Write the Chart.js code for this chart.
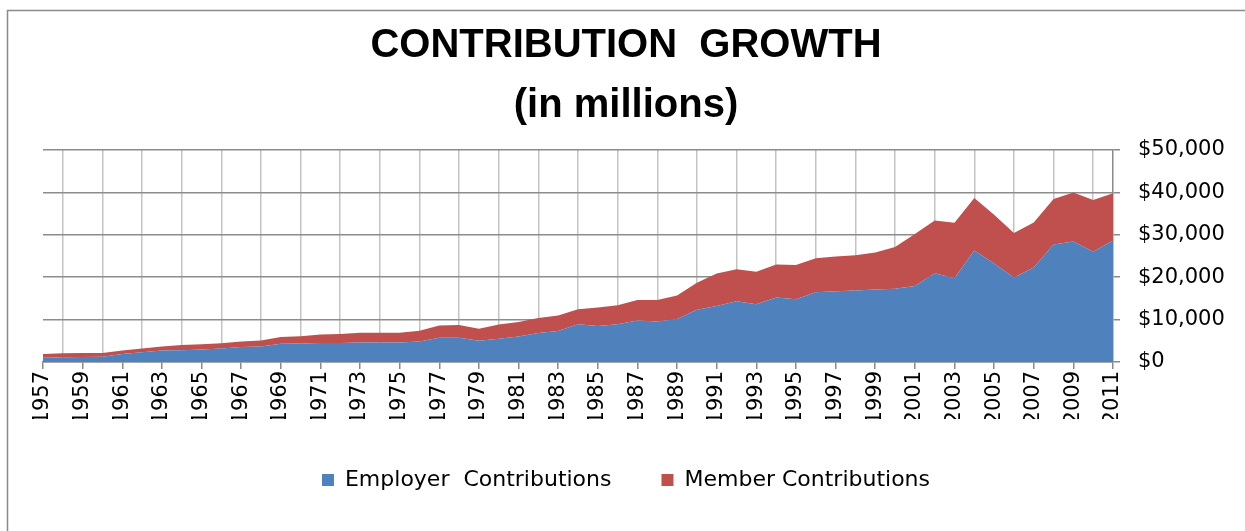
<!DOCTYPE html>
<html lang="en">
<head>
  <meta charset="UTF-8">
  <title>Contribution Growth</title>
  <script src="https://cdn.jsdelivr.net/npm/chart.js"></script>
  <style>
    body {
      margin: 0;
      background-color: #ffffff;
    }
    #wrap {
      width: 1245px;
      height: 531px;
    }
  </style>
</head>
<body>
  <div id="wrap"><canvas id="growthChart"></canvas></div>

  <script>
    const years = [
      '1957', '1958', '1959', '1960', '1961', '1962', '1963', '1964', '1965', '1966',
      '1967', '1968', '1969', '1970', '1971', '1972', '1973', '1974', '1975', '1976',
      '1977', '1978', '1979', '1980', '1981', '1982', '1983', '1984', '1985', '1986',
      '1987', '1988', '1989', '1990', '1991', '1992', '1993', '1994', '1995', '1996',
      '1997', '1998', '1999', '2000', '2001', '2002', '2003', '2004', '2005', '2006',
      '2007', '2008', '2009', '2010', '2011'
    ];

    // millions of dollars
    const employer = [
      1000, 1100, 1150, 1250, 1900, 2300, 2700, 2800, 2950, 3200,
      3550, 3650, 4300, 4350, 4500, 4500, 4600, 4600, 4600, 4850,
      5700, 5700, 5000, 5500, 6000, 6850, 7300, 8900, 8500, 8900,
      9800, 9550, 10150, 12300, 13200, 14300, 13600, 15200, 14800, 16450,
      16700, 16850, 17100, 17250, 17950, 20950, 19750, 26300, 23250, 19900,
      22300, 27700, 28400, 26000, 28650
    ];

    const member = [
      900, 950, 950, 900, 800, 900, 950, 1200, 1250, 1250,
      1300, 1450, 1600, 1750, 2000, 2100, 2300, 2300, 2300, 2500,
      2900, 3000, 2850, 3350, 3450, 3500, 3650, 3550, 4350, 4500,
      4800, 5050, 5550, 6400, 7700, 7600, 7700, 7800, 8050, 8000,
      8200, 8350, 8750, 9850, 12250, 12450, 13100, 12400, 11450, 10500,
      10600, 10750, 11600, 12200, 11150
    ];

    const yTicks = [0, 10000, 20000, 30000, 40000, 50000];

    const BLUE = '#4f81bd';
    const RED = '#c0504d';
    const tickFont = { family: 'DejaVu Sans', size: 21 };

    // white page and the grey frame round the chart
    const framePlugin = {
      id: 'frame',
      beforeDraw(chart) {
        const c = chart.ctx;
        c.save();
        c.fillStyle = '#ffffff';
        c.fillRect(0, 0, chart.width, chart.height);
        c.strokeStyle = '#8a8a8a';
        c.lineWidth = 1.5;
        c.strokeRect(7.5, 10.5, 1400, 700);
        c.restore();
      }
    };

    const ctx = document.getElementById('growthChart').getContext('2d');

    new Chart(ctx, {
      type: 'line',
      data: {
        labels: years,
        datasets: [
          {
            label: 'Employer  Contributions',
            data: employer,
            backgroundColor: BLUE,
            borderColor: BLUE,
            borderWidth: 0,
            pointRadius: 0,
            fill: 'origin',
            tension: 0
          },
          {
            label: 'Member Contributions',
            data: member,
            backgroundColor: RED,
            borderColor: RED,
            borderWidth: 0,
            pointRadius: 0,
            fill: '-1',
            tension: 0
          }
        ]
      },
      plugins: [framePlugin],
      options: {
        responsive: true,
        maintainAspectRatio: false,
        animation: false,
        layout: {
          padding: { left: 7, right: 0, top: 0, bottom: 30 }
        },
        plugins: {
          title: {
            display: true,
            text: ['CONTRIBUTION  GROWTH', '(in millions)'],
            color: '#000000',
            font: { family: 'Liberation Sans', size: 40, weight: 'bold', lineHeight: 1.5 },
            padding: { top: 16, bottom: 14 }
          },
          legend: {
            position: 'bottom',
            labels: {
              color: '#000000',
              font: { family: 'DejaVu Sans', size: 22 },
              boxWidth: 12,
              boxHeight: 12,
              padding: 50
            }
          },
          tooltip: { enabled: false }
        },
        scales: {
          x: {
            stacked: true,
            offset: false,
            // labels hang below into the gap above the legend
            afterFit(scale) { scale.height = 57; },
            border: { display: true, color: '#8a8a8a', width: 1.5 },
            grid: {
              drawOnChartArea: true,
              color: c => (c.index % 2 === 1 ? '#c4c4c4' : 'rgba(0,0,0,0)'),
              tickColor: c => (c.index % 2 === 0 ? '#8a8a8a' : 'rgba(0,0,0,0)'),
              tickLength: 7,
              lineWidth: 1.5
            },
            ticks: {
              autoSkip: false,
              maxRotation: 90,
              minRotation: 90,
              padding: 2,
              color: '#000000',
              font: tickFont,
              callback(value, index) {
                return index % 2 === 0 ? years[index] : '';
              }
            }
          },
          y: {
            stacked: true,
            position: 'right',
            min: 0,
            max: 50000,
            afterFit(scale) { scale.width = 132; },
            afterBuildTicks(scale) {
              scale.ticks = yTicks.map(v => ({ value: v }));
            },
            border: { display: true, color: '#8a8a8a', width: 1.5 },
            grid: {
              color: '#8c8c8c',
              tickColor: '#8a8a8a',
              tickLength: 7,
              lineWidth: 1.5
            },
            ticks: {
              padding: 18,
              color: '#000000',
              font: tickFont,
              callback: value => '$' + value.toLocaleString('en-US')
            }
          },
          // empty left strip so the plot starts where the original does
          spacer: {
            type: 'linear',
            position: 'left',
            display: true,
            afterFit(scale) { scale.width = 36; },
            border: { display: false },
            grid: { display: false },
            ticks: { display: false }
          }
        }
      }
    });
  </script>
</body>
</html>
